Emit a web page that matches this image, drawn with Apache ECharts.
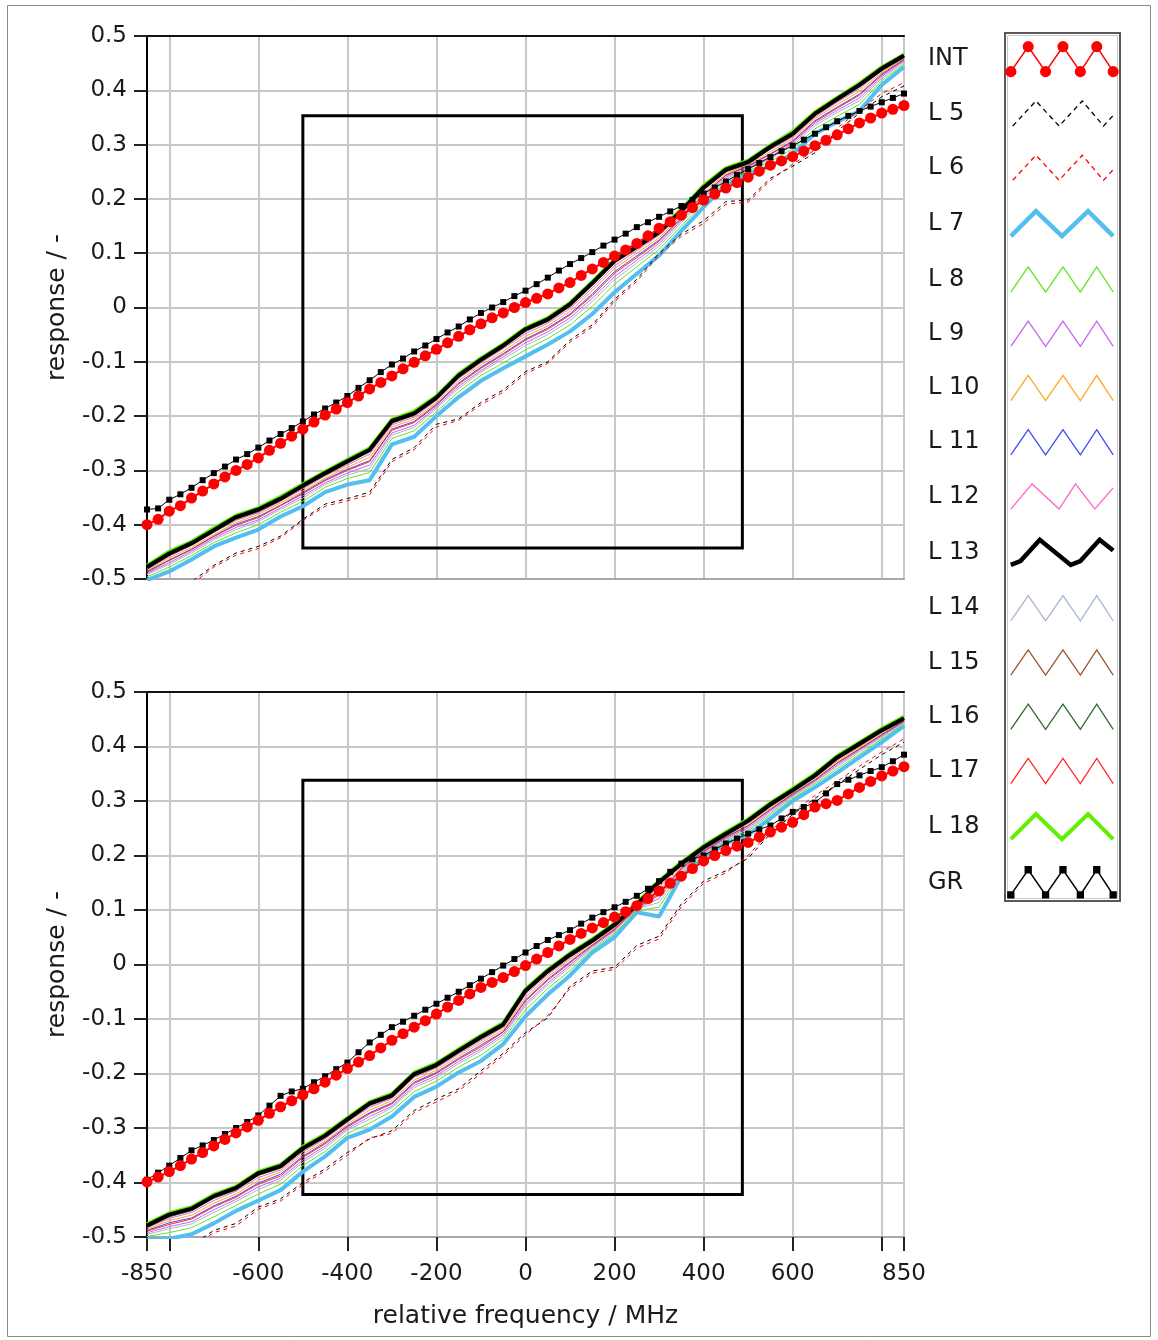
<!DOCTYPE html>
<html><head><meta charset="utf-8">
<script src="https://cdn.jsdelivr.net/npm/echarts@6/dist/echarts.min.js"></script>
<style>html,body{margin:0;padding:0;background:#fff;}#c{width:1158px;height:1340px;}</style>
</head><body><div id="c"></div>
<script>
// ---------- DATA ----------
const xs50 = [-850,-800,-750,-700,-650,-600,-550,-500,-450,-400,-350,-300,-250,-200,-150,-100,-50,0,50,100,150,200,250,300,350,400,450,500,550,600,650,700,750,800,850];
const xs25 = [-850,-825,-800,-775,-750,-725,-700,-675,-650,-625,-600,-575,-550,-525,-500,-475,-450,-425,-400,-375,-350,-325,-300,-275,-250,-225,-200,-175,-150,-125,-100,-75,-50,-25,0,25,50,75,100,125,150,175,200,225,250,275,300,325,350,375,400,425,450,475,500,525,550,575,600,625,650,675,700,725,750,775,800,825,850];
const xTickValues = [-850,-800,-600,-400,-200,0,200,400,600,800,850];
const xLabelValues = [-850,-600,-400,-200,0,200,400,600,850];
const seriesNames = ['INT','L 5','L 6','L 7','L 8','L 9','L 10','L 11','L 12','L 13','L 14','L 15','L 16','L 17','L 18','GR'];
const boxA_x = [-500, 487], boxA_y = [-0.443, 0.353];
const boxB_x = [-500, 487], boxB_y = [-0.422, 0.338];

// top panel
const INT_A = [-0.400,-0.390,-0.375,-0.365,-0.351,-0.338,-0.325,-0.312,-0.300,-0.289,-0.277,-0.263,-0.250,-0.237,-0.224,-0.211,-0.198,-0.187,-0.175,-0.163,-0.150,-0.138,-0.126,-0.113,-0.101,-0.089,-0.077,-0.065,-0.053,-0.041,-0.030,-0.019,-0.010,0.000,0.009,0.017,0.025,0.036,0.046,0.059,0.071,0.083,0.095,0.106,0.118,0.132,0.146,0.158,0.170,0.184,0.198,0.209,0.220,0.230,0.240,0.251,0.262,0.270,0.278,0.288,0.298,0.308,0.318,0.329,0.340,0.349,0.358,0.365,0.372];
const GR_A = [-0.372,-0.370,-0.354,-0.344,-0.332,-0.318,-0.305,-0.293,-0.280,-0.270,-0.258,-0.245,-0.233,-0.222,-0.210,-0.197,-0.186,-0.175,-0.163,-0.148,-0.134,-0.119,-0.105,-0.094,-0.081,-0.070,-0.058,-0.046,-0.035,-0.022,-0.010,0.000,0.010,0.021,0.031,0.043,0.055,0.068,0.080,0.091,0.102,0.114,0.125,0.136,0.148,0.157,0.167,0.177,0.187,0.198,0.210,0.221,0.232,0.244,0.255,0.266,0.277,0.288,0.298,0.309,0.320,0.332,0.343,0.353,0.362,0.370,0.378,0.386,0.394];
const L5_A = [-0.560,-0.540,-0.505,-0.475,-0.452,-0.440,-0.421,-0.390,-0.362,-0.352,-0.340,-0.280,-0.258,-0.215,-0.205,-0.175,-0.152,-0.118,-0.100,-0.060,-0.032,0.015,0.052,0.100,0.135,0.160,0.195,0.198,0.238,0.260,0.285,0.325,0.358,0.388,0.408];
const L6_A = [-0.565,-0.545,-0.510,-0.478,-0.456,-0.444,-0.424,-0.392,-0.366,-0.356,-0.345,-0.284,-0.262,-0.220,-0.208,-0.179,-0.156,-0.122,-0.103,-0.064,-0.036,0.011,0.048,0.096,0.131,0.155,0.190,0.194,0.234,0.264,0.290,0.330,0.364,0.394,0.414];
const L7_A = [-0.502,-0.486,-0.464,-0.440,-0.424,-0.409,-0.385,-0.366,-0.340,-0.326,-0.318,-0.252,-0.238,-0.200,-0.165,-0.135,-0.112,-0.090,-0.068,-0.044,-0.012,0.028,0.062,0.096,0.141,0.185,0.226,0.247,0.260,0.283,0.320,0.342,0.362,0.410,0.443];
const L8_A = [-0.496,-0.478,-0.457,-0.433,-0.415,-0.400,-0.377,-0.357,-0.331,-0.315,-0.304,-0.241,-0.227,-0.192,-0.155,-0.125,-0.102,-0.078,-0.057,-0.032,0.002,0.043,0.075,0.107,0.150,0.194,0.233,0.252,0.269,0.292,0.329,0.352,0.374,0.418,0.448];
const L9_A = [-0.490,-0.470,-0.449,-0.425,-0.405,-0.391,-0.369,-0.347,-0.323,-0.305,-0.290,-0.231,-0.217,-0.183,-0.145,-0.116,-0.091,-0.065,-0.045,-0.019,0.017,0.057,0.087,0.118,0.160,0.203,0.240,0.258,0.278,0.302,0.339,0.363,0.386,0.425,0.454];
const L10_A = [-0.484,-0.461,-0.442,-0.418,-0.396,-0.381,-0.360,-0.338,-0.314,-0.294,-0.276,-0.220,-0.206,-0.175,-0.135,-0.106,-0.081,-0.053,-0.034,-0.007,0.031,0.072,0.100,0.128,0.169,0.212,0.247,0.263,0.287,0.311,0.348,0.374,0.398,0.433,0.459];
const L11_A = [-0.486,-0.465,-0.445,-0.421,-0.399,-0.385,-0.364,-0.341,-0.317,-0.298,-0.282,-0.224,-0.210,-0.178,-0.139,-0.110,-0.085,-0.058,-0.038,-0.012,0.025,0.066,0.095,0.124,0.165,0.208,0.244,0.261,0.283,0.307,0.344,0.369,0.393,0.430,0.457];
const L12_A = [-0.482,-0.458,-0.438,-0.414,-0.392,-0.378,-0.357,-0.334,-0.310,-0.290,-0.270,-0.216,-0.202,-0.171,-0.131,-0.102,-0.076,-0.048,-0.029,-0.002,0.036,0.077,0.105,0.133,0.172,0.216,0.250,0.265,0.291,0.314,0.351,0.378,0.403,0.436,0.461];
const L13_A = [-0.478,-0.453,-0.434,-0.410,-0.386,-0.372,-0.352,-0.328,-0.305,-0.283,-0.262,-0.209,-0.195,-0.166,-0.125,-0.096,-0.070,-0.040,-0.022,0.006,0.045,0.086,0.112,0.139,0.178,0.221,0.254,0.268,0.296,0.320,0.357,0.384,0.410,0.440,0.464];
const L14_A = [-0.492,-0.473,-0.452,-0.428,-0.409,-0.394,-0.372,-0.351,-0.326,-0.309,-0.296,-0.235,-0.221,-0.186,-0.149,-0.119,-0.095,-0.070,-0.050,-0.024,0.011,0.051,0.082,0.113,0.156,0.199,0.237,0.255,0.274,0.298,0.335,0.359,0.381,0.422,0.451];
const L15_A = [-0.480,-0.455,-0.436,-0.412,-0.388,-0.374,-0.354,-0.330,-0.307,-0.285,-0.264,-0.211,-0.197,-0.168,-0.127,-0.098,-0.072,-0.042,-0.024,0.004,0.043,0.084,0.110,0.137,0.176,0.219,0.252,0.266,0.294,0.318,0.355,0.382,0.408,0.438,0.462];
const L16_A = [-0.482,-0.457,-0.438,-0.414,-0.390,-0.376,-0.356,-0.332,-0.309,-0.287,-0.266,-0.213,-0.199,-0.170,-0.129,-0.100,-0.074,-0.044,-0.026,0.002,0.041,0.082,0.108,0.135,0.174,0.217,0.250,0.264,0.292,0.316,0.353,0.380,0.406,0.436,0.460];
const L17_A = [-0.488,-0.466,-0.446,-0.422,-0.401,-0.387,-0.365,-0.343,-0.319,-0.300,-0.284,-0.226,-0.212,-0.180,-0.141,-0.112,-0.087,-0.060,-0.040,-0.014,0.022,0.063,0.092,0.122,0.163,0.207,0.243,0.260,0.282,0.305,0.342,0.367,0.391,0.428,0.456];
const L18_A = [-0.475,-0.449,-0.431,-0.406,-0.383,-0.369,-0.348,-0.325,-0.302,-0.280,-0.259,-0.206,-0.191,-0.163,-0.122,-0.093,-0.067,-0.037,-0.019,0.009,0.048,0.089,0.116,0.142,0.181,0.225,0.257,0.271,0.299,0.324,0.360,0.387,0.413,0.443,0.466];

// bottom panel
const INT_B = [-0.399,-0.390,-0.380,-0.369,-0.357,-0.345,-0.333,-0.321,-0.309,-0.298,-0.286,-0.273,-0.261,-0.250,-0.239,-0.228,-0.216,-0.203,-0.191,-0.179,-0.167,-0.153,-0.139,-0.127,-0.115,-0.103,-0.091,-0.078,-0.066,-0.054,-0.042,-0.033,-0.024,-0.013,-0.002,0.010,0.022,0.034,0.046,0.057,0.067,0.077,0.087,0.097,0.108,0.121,0.135,0.149,0.162,0.176,0.190,0.200,0.209,0.217,0.224,0.234,0.243,0.252,0.261,0.275,0.289,0.295,0.301,0.313,0.325,0.336,0.346,0.355,0.363];
const GR_B = [-0.395,-0.382,-0.369,-0.355,-0.341,-0.332,-0.322,-0.311,-0.300,-0.289,-0.277,-0.259,-0.241,-0.233,-0.228,-0.216,-0.205,-0.192,-0.180,-0.161,-0.143,-0.129,-0.115,-0.105,-0.094,-0.083,-0.072,-0.061,-0.050,-0.038,-0.026,-0.014,-0.002,0.010,0.022,0.034,0.045,0.054,0.063,0.075,0.086,0.096,0.105,0.115,0.126,0.139,0.153,0.170,0.185,0.193,0.200,0.211,0.222,0.231,0.240,0.248,0.255,0.268,0.280,0.289,0.297,0.314,0.331,0.339,0.347,0.355,0.362,0.373,0.385];
const L5_B = [-0.560,-0.540,-0.515,-0.488,-0.475,-0.445,-0.430,-0.400,-0.375,-0.345,-0.320,-0.305,-0.268,-0.247,-0.228,-0.195,-0.163,-0.125,-0.098,-0.040,-0.012,-0.005,0.035,0.052,0.111,0.153,0.172,0.195,0.240,0.275,0.305,0.330,0.358,0.385,0.408];
const L6_B = [-0.565,-0.545,-0.520,-0.492,-0.480,-0.449,-0.434,-0.404,-0.379,-0.350,-0.318,-0.310,-0.272,-0.252,-0.232,-0.200,-0.167,-0.129,-0.094,-0.044,-0.016,-0.009,0.030,0.047,0.106,0.149,0.168,0.200,0.245,0.280,0.310,0.336,0.364,0.390,0.414];
const L7_B = [-0.505,-0.503,-0.495,-0.475,-0.452,-0.433,-0.414,-0.380,-0.352,-0.318,-0.303,-0.279,-0.243,-0.224,-0.198,-0.177,-0.146,-0.095,-0.055,-0.020,0.022,0.050,0.096,0.088,0.162,0.195,0.222,0.238,0.268,0.300,0.325,0.352,0.380,0.408,0.438];
const L8_B = [-0.499,-0.492,-0.483,-0.463,-0.442,-0.421,-0.403,-0.369,-0.343,-0.310,-0.291,-0.269,-0.233,-0.214,-0.188,-0.166,-0.137,-0.083,-0.044,-0.011,0.028,0.056,0.099,0.105,0.168,0.200,0.227,0.245,0.275,0.305,0.331,0.359,0.386,0.414,0.442];
const L9_B = [-0.492,-0.481,-0.472,-0.450,-0.431,-0.408,-0.392,-0.359,-0.333,-0.301,-0.279,-0.260,-0.222,-0.204,-0.178,-0.155,-0.128,-0.072,-0.034,-0.001,0.033,0.062,0.103,0.121,0.174,0.205,0.231,0.251,0.281,0.310,0.336,0.366,0.393,0.419,0.445];
const L10_B = [-0.486,-0.470,-0.460,-0.438,-0.421,-0.396,-0.381,-0.348,-0.324,-0.293,-0.267,-0.250,-0.212,-0.194,-0.168,-0.144,-0.119,-0.060,-0.023,0.009,0.039,0.067,0.106,0.136,0.179,0.210,0.236,0.258,0.288,0.315,0.342,0.373,0.399,0.425,0.449];
const L11_B = [-0.488,-0.474,-0.465,-0.443,-0.425,-0.401,-0.385,-0.352,-0.327,-0.296,-0.272,-0.254,-0.216,-0.198,-0.172,-0.148,-0.123,-0.065,-0.027,0.005,0.036,0.065,0.105,0.130,0.177,0.208,0.234,0.255,0.285,0.313,0.339,0.370,0.396,0.422,0.447];
const L12_B = [-0.483,-0.466,-0.455,-0.433,-0.416,-0.391,-0.377,-0.344,-0.320,-0.289,-0.262,-0.246,-0.207,-0.190,-0.164,-0.140,-0.115,-0.055,-0.019,0.012,0.041,0.070,0.108,0.142,0.182,0.212,0.237,0.260,0.290,0.317,0.344,0.376,0.401,0.427,0.450];
const L13_B = [-0.479,-0.459,-0.448,-0.425,-0.410,-0.383,-0.370,-0.337,-0.314,-0.284,-0.255,-0.240,-0.201,-0.184,-0.158,-0.133,-0.110,-0.048,-0.012,0.018,0.044,0.073,0.110,0.151,0.185,0.215,0.240,0.264,0.294,0.320,0.347,0.380,0.405,0.430,0.452];
const L14_B = [-0.495,-0.485,-0.476,-0.455,-0.435,-0.413,-0.396,-0.363,-0.337,-0.304,-0.284,-0.263,-0.226,-0.208,-0.182,-0.159,-0.132,-0.076,-0.038,-0.005,0.031,0.059,0.102,0.114,0.171,0.203,0.229,0.248,0.278,0.308,0.334,0.363,0.390,0.417,0.444];
const L15_B = [-0.481,-0.461,-0.450,-0.427,-0.412,-0.385,-0.372,-0.339,-0.316,-0.286,-0.257,-0.242,-0.203,-0.186,-0.160,-0.135,-0.112,-0.050,-0.014,0.016,0.042,0.071,0.108,0.149,0.183,0.213,0.238,0.262,0.292,0.318,0.345,0.378,0.403,0.428,0.450];
const L16_B = [-0.483,-0.463,-0.452,-0.429,-0.414,-0.387,-0.374,-0.341,-0.318,-0.288,-0.259,-0.244,-0.205,-0.188,-0.162,-0.137,-0.114,-0.052,-0.016,0.014,0.040,0.069,0.106,0.147,0.181,0.211,0.236,0.260,0.290,0.316,0.343,0.376,0.401,0.426,0.448];
const L17_B = [-0.489,-0.477,-0.467,-0.445,-0.427,-0.403,-0.388,-0.354,-0.329,-0.298,-0.274,-0.256,-0.218,-0.200,-0.174,-0.151,-0.124,-0.067,-0.029,0.003,0.035,0.064,0.104,0.127,0.176,0.207,0.233,0.254,0.284,0.312,0.338,0.369,0.395,0.421,0.446];
const L18_B = [-0.476,-0.456,-0.445,-0.422,-0.407,-0.380,-0.367,-0.334,-0.311,-0.281,-0.252,-0.237,-0.198,-0.181,-0.155,-0.130,-0.107,-0.045,-0.009,0.021,0.047,0.076,0.113,0.154,0.188,0.218,0.243,0.267,0.297,0.323,0.350,0.383,0.408,0.433,0.455];

// ---------- STYLE ----------
const FONT = 'DejaVu Sans';
const TXT = '#1a1a1a';
const sty = {
  'INT': {color:'#ff0000', width:2, symbol:'circle', size:11, z:6},
  'L 5': {color:'#000000', width:1, dash:[4,4], z:4},
  'L 6': {color:'#ff0000', width:1, dash:[4,4], z:4},
  'L 7': {color:'#52bff0', width:4, z:2},
  'L 8': {color:'#5ee61e', width:1, z:3},
  'L 9': {color:'#c864f0', width:1, z:3},
  'L 10': {color:'#ffa526', width:1, z:3},
  'L 11': {color:'#3a4cff', width:1, z:3},
  'L 12': {color:'#ff5fc8', width:1, z:3},
  'L 13': {color:'#000000', width:4, z:3},
  'L 14': {color:'#a8b4d6', width:1, z:3},
  'L 15': {color:'#a0522d', width:1, z:3},
  'L 16': {color:'#2e6a2e', width:1, z:3},
  'L 17': {color:'#ff2a2a', width:1, z:3},
  'L 18': {color:'#5ef000', width:3.5, z:2},
  'GR': {color:'#000000', width:1, symbol:'rect', size:6, z:5}
};
const panels = [
  {'INT':INT_A,'GR':GR_A,'L 5':L5_A,'L 6':L6_A,'L 7':L7_A,'L 8':L8_A,'L 9':L9_A,'L 10':L10_A,'L 11':L11_A,'L 12':L12_A,'L 13':L13_A,'L 14':L14_A,'L 15':L15_A,'L 16':L16_A,'L 17':L17_A,'L 18':L18_A},
  {'INT':INT_B,'GR':GR_B,'L 5':L5_B,'L 6':L6_B,'L 7':L7_B,'L 8':L8_B,'L 9':L9_B,'L 10':L10_B,'L 11':L11_B,'L 12':L12_B,'L 13':L13_B,'L 14':L14_B,'L 15':L15_B,'L 16':L16_B,'L 17':L17_B,'L 18':L18_B}
];
const boxes = [[boxA_x, boxA_y],[boxB_x, boxB_y]];
const drawOrder = ['L 7','L 18','L 8','L 9','L 10','L 11','L 12','L 14','L 15','L 16','L 17','L 13','L 5','L 6','GR','INT'];

function pairs(xs, ys){ return xs.map((x,i)=>[x, ys[i]]); }

const series = [];
panels.forEach((p, gi) => {
  drawOrder.forEach(name => {
    const s = sty[name];
    const ys = p[name];
    const xs = ys.length === xs25.length ? xs25 : xs50;
    const o = {
      type:'line', name, xAxisIndex: gi*2, yAxisIndex: gi,
      data: pairs(xs, ys), silent:true, animation:false, clip:true, z:s.z,
      symbol: s.symbol || 'none', symbolSize: s.size || 0, showSymbol: !!s.symbol,
      lineStyle:{color:s.color, width:s.width, type: s.dash || 'solid'},
      itemStyle:{color:s.color, borderWidth:0},
      emphasis:{disabled:true}
    };
    if (name === 'INT') {
      const b = boxes[gi];
      o.markArea = {silent:true, label:{show:false},
        itemStyle:{color:'rgba(0,0,0,0)', borderColor:'#000', borderWidth:3},
        data:[[{coord:[b[0][0], b[1][0]]},{coord:[b[0][1], b[1][1]]}]]};
    }
    series.push(o);
  });
});

// ---------- LEGEND ICONS ----------
const BOXP = 'M-1 0 M115 36 ';
function zig(pts){ return 'M' + pts.map(p=>p[0]+' '+p[1]).join(' L'); }
function zigBack(pts){ const r = pts.slice().reverse().slice(1); return zig(pts) + ' L' + r.map(p=>p[0]+' '+p[1]).join(' L'); }
const P3 = [[4,31],[22,5],[40,31],[58,5],[76,31],[93,5],[110,31]];
const P2 = [[4,31],[30,5],[57,31],[84,5],[110,31]];
const P13 = [[4,31],[14,27],[34,5],[66,31],[76,27],[96,5],[110,16]];
const P12 = [[4,31],[26,5],[54,31],[71,5],[91,31],[110,9]];
const P5 = [[6,31],[30,5],[54,31],[78,5],[100,31],[110,20]];
function circ(x,y,r){ return ` M${x-r} ${y} A${r} ${r} 0 1 0 ${x+r} ${y} A${r} ${r} 0 1 0 ${x-r} ${y} Z`; }
function sq(x,y,h){ return ` M${x-h} ${y-h} L${x+h} ${y-h} L${x+h} ${y+h} L${x-h} ${y+h} Z`; }
const iconINT = 'path://' + BOXP + zigBack(P3) + P3.map(p=>circ(p[0],p[1],5)).join('');
const iconGR = 'path://' + BOXP + zigBack(P3) + P3.map(p=>sq(p[0],p[1],3)).join('');
const iconOf = {
  'INT': iconINT, 'GR': iconGR,
  'L 5': 'path://' + BOXP + zig(P5), 'L 6': 'path://' + BOXP + zig(P5),
  'L 7': 'path://' + BOXP + zig(P2), 'L 18': 'path://' + BOXP + zig(P2),
  'L 13': 'path://' + BOXP + zig(P13), 'L 12': 'path://' + BOXP + zig(P12)
};
const legendData = seriesNames.map(n => {
  const s = sty[n];
  const icon = iconOf[n] || ('path://' + BOXP + zig(P3));
  let itemStyle;
  if (n === 'INT' || n === 'GR') itemStyle = {color:s.color, borderColor:s.color, borderWidth:1.5};
  else itemStyle = {color:'transparent', borderColor:s.color, borderWidth: s.width > 1 ? s.width + 0.5 : 1.3, borderType: s.dash ? [5,4] : 'solid'};
  return {name:n, icon, itemStyle};
});

// ---------- AXES ----------
function xAxisFor(gi, bottom){
  return [{
    type:'value', gridIndex:gi, min:-850, max:850, position:'bottom',
    axisLine:{show:true, onZero:false, lineStyle:{color:'#a8a8a8', width:2}},
    axisTick:{show:bottom, customValues:xTickValues, length:14, lineStyle:{color:'#222', width:2}},
    axisLabel:{show:bottom, customValues:xLabelValues, margin:26, fontSize:23, fontFamily:FONT, color:TXT},
    splitLine:{show:true, lineStyle:{color:'#c8c8c8', width:2}},
    name: bottom ? 'relative frequency / MHz' : '', nameLocation:'middle', nameGap:67,
    nameTextStyle:{fontSize:25, fontFamily:FONT, color:TXT}
  },{
    type:'value', gridIndex:gi, min:-850, max:850, position:'top',
    axisLine:{show:true, onZero:false, lineStyle:{color:'#111', width:2}},
    axisTick:{show:false}, axisLabel:{show:false}, splitLine:{show:false}
  }];
}
function yAxisFor(gi){
  return {
    type:'value', gridIndex:gi, min:-0.5, max:0.5, interval:0.1,
    axisLine:{show:true, onZero:false, lineStyle:{color:'#000', width:2}},
    axisTick:{show:true, length:13, lineStyle:{color:'#222', width:2}},
    axisLabel:{margin:20, fontSize:23, fontFamily:FONT, color:TXT,
      formatter: v => { const r = Math.round(v*10)/10; return r === 0 ? '0' : String(r); }},
    splitLine:{show:true, lineStyle:{color:'#c8c8c8', width:2}},
    name:'response / -', nameLocation:'middle', nameGap:77,
    nameTextStyle:{fontSize:25, fontFamily:FONT, color:TXT}
  };
}

const option = {
  animation:false,
  backgroundColor:'#ffffff',
  textStyle:{fontFamily:FONT},
  grid:[
    {left:147, top:36, width:757, height:543, show:true, borderColor:'#a8a8a8', borderWidth:2, outerBoundsMode:'none', containLabel:false},
    {left:147, top:692, width:757, height:545, show:true, borderColor:'#a8a8a8', borderWidth:2, outerBoundsMode:'none', containLabel:false}
  ],
  xAxis: [].concat(xAxisFor(0,false), xAxisFor(1,true)),
  yAxis: [yAxisFor(0), yAxisFor(1)],
  legend:{
    orient:'vertical', left:928, top:41, padding:0, itemWidth:112, itemHeight:36, itemGap:18.2,
    align:'right', selectedMode:false, symbolKeepAspect:true,
    formatter: n => '{n|' + n + '}',
    textStyle:{fontSize:24, fontFamily:FONT, color:TXT,
      rich:{n:{width:73, align:'left', fontSize:24, fontFamily:FONT, color:TXT, lineHeight:30}}},
    data: legendData
  },
  graphic:[
    {type:'rect', silent:true, z:-10, shape:{x:7.5, y:5.5, width:1143, height:1331}, style:{fill:'none', stroke:'#8a8a8a', lineWidth:1}},
    {type:'rect', silent:true, shape:{x:1005, y:33, width:115, height:868}, style:{fill:'none', stroke:'#5a5a5a', lineWidth:2}},
    {type:'rect', silent:true, shape:{x:1007.5, y:35.5, width:110, height:863}, style:{fill:'none', stroke:'#c8c8c8', lineWidth:1}}
  ],
  series
};
const chart = echarts.init(document.getElementById('c'), null, {renderer:'canvas'});
chart.setOption(option);
</script></body></html>
